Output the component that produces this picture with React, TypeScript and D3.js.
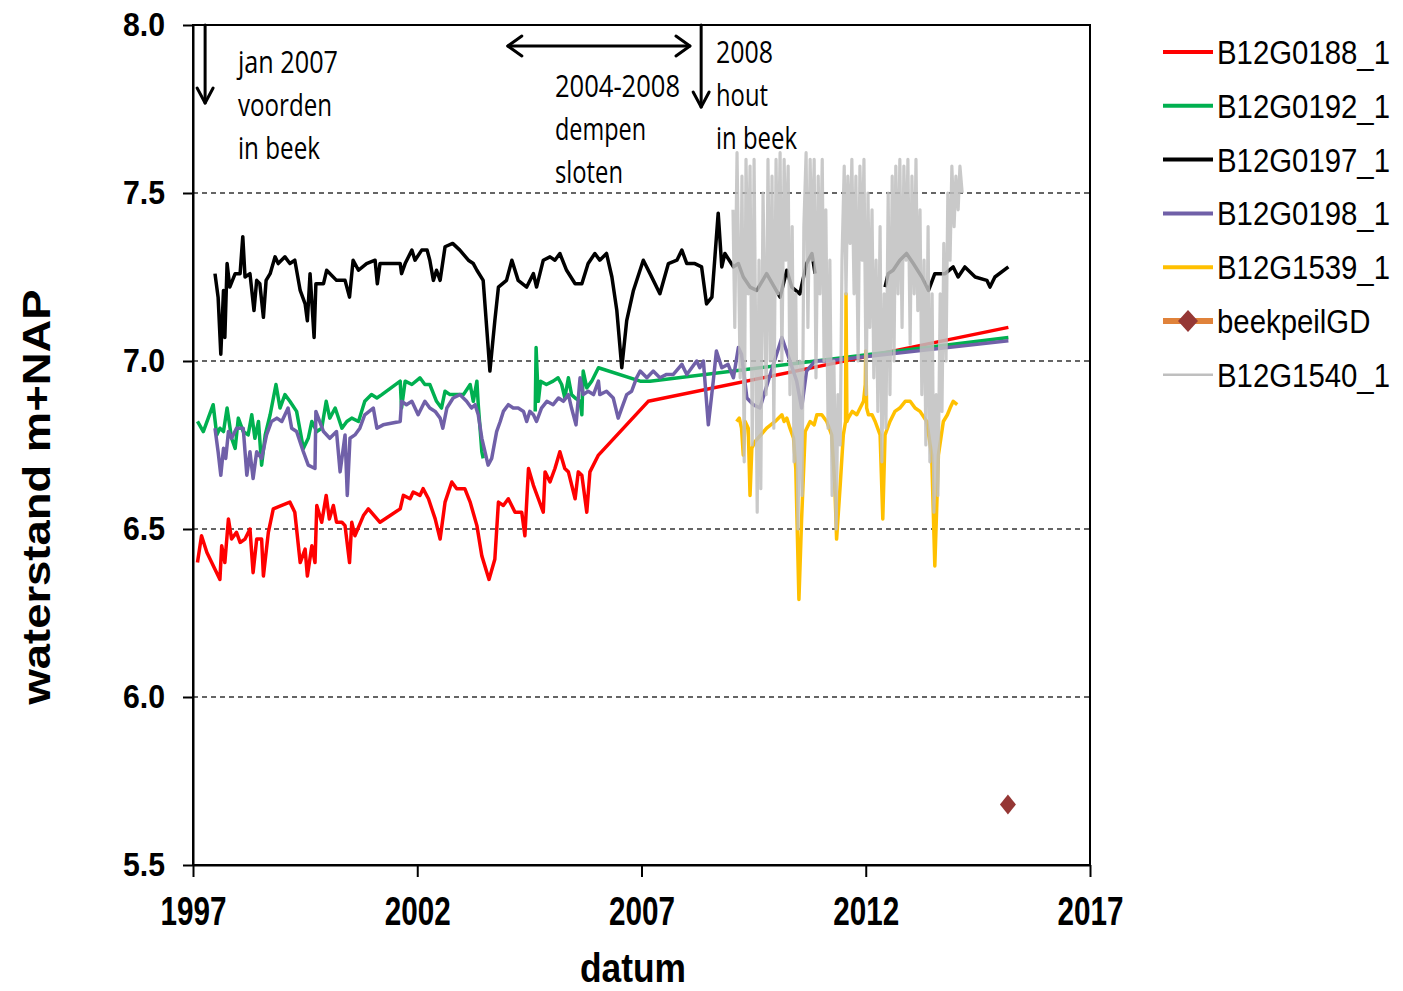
import * as d3 from "d3";
import { useEffect, useRef } from "react";

type Pt = [number, number | null];

// Meetreeksen: [jaar (decimaal), waterstand m+NAP]
const B12G0188_1: Pt[] = [
  [1997.1, 6.4], [1997.19, 6.48], [1997.31, 6.43], [1997.49, 6.38], [1997.6, 6.35], [1997.64, 6.45],
  [1997.71, 6.4], [1997.79, 6.53], [1997.86, 6.47], [1997.97, 6.49], [1998.05, 6.46], [1998.16, 6.47],
  [1998.27, 6.5], [1998.34, 6.37], [1998.42, 6.47], [1998.53, 6.47], [1998.57, 6.36], [1998.68, 6.49],
  [1998.79, 6.56], [1998.98, 6.57], [1999.16, 6.58], [1999.27, 6.55], [1999.39, 6.4], [1999.5, 6.44],
  [1999.55, 6.36], [1999.65, 6.45], [1999.72, 6.4], [1999.76, 6.57], [1999.87, 6.52], [1999.97, 6.6],
  [2000.04, 6.53], [2000.13, 6.57], [2000.2, 6.52], [2000.32, 6.52], [2000.39, 6.51], [2000.49, 6.4],
  [2000.54, 6.52], [2000.61, 6.48], [2000.8, 6.54], [2000.91, 6.56], [2001.17, 6.52], [2001.62, 6.56],
  [2001.69, 6.6], [2001.84, 6.59], [2001.91, 6.61], [2002.06, 6.6], [2002.13, 6.62], [2002.25, 6.59],
  [2002.4, 6.53], [2002.51, 6.47], [2002.62, 6.58], [2002.77, 6.64], [2002.88, 6.62], [2003.06, 6.62],
  [2003.18, 6.58], [2003.33, 6.51], [2003.44, 6.42], [2003.6, 6.35], [2003.73, 6.41], [2003.81, 6.58],
  [2003.92, 6.57], [2004.03, 6.59], [2004.18, 6.55], [2004.33, 6.55], [2004.4, 6.48], [2004.48, 6.68],
  [2004.59, 6.63], [2004.7, 6.59], [2004.81, 6.55], [2004.85, 6.67], [2004.96, 6.64], [2005.07, 6.68],
  [2005.18, 6.73], [2005.29, 6.68], [2005.37, 6.67], [2005.52, 6.59], [2005.59, 6.67], [2005.67, 6.66],
  [2005.78, 6.55], [2005.85, 6.67], [2006.04, 6.72], [2007.15, 6.88], [2015.18, 7.1],
];

const B12G0192_1: Pt[] = [
  [1997.1, 6.82], [1997.23, 6.79], [1997.45, 6.87], [1997.53, 6.78], [1997.6, 6.8], [1997.68, 6.79],
  [1997.76, 6.86], [1997.86, 6.77], [1997.94, 6.74], [1998.01, 6.83], [1998.12, 6.79], [1998.23, 6.78],
  [1998.31, 6.84], [1998.38, 6.77], [1998.46, 6.82], [1998.53, 6.69], [1998.61, 6.78], [1998.72, 6.84],
  [1998.85, 6.93], [1998.94, 6.86], [1999.05, 6.9], [1999.16, 6.88], [1999.31, 6.85], [1999.46, 6.74],
  [1999.57, 6.77], [1999.65, 6.82], [1999.76, 6.79], [1999.87, 6.8], [1999.97, 6.88], [2000.05, 6.83],
  [2000.17, 6.86], [2000.32, 6.8], [2000.43, 6.82], [2000.54, 6.83], [2000.69, 6.82], [2000.83, 6.88],
  [2000.98, 6.9], [2001.1, 6.89], [2001.21, 6.9], [2001.62, 6.94], [2001.65, 6.86], [2001.73, 6.94],
  [2001.88, 6.93], [2002.06, 6.95], [2002.17, 6.93], [2002.28, 6.93], [2002.43, 6.88], [2002.54, 6.86],
  [2002.62, 6.91], [2002.73, 6.9], [2002.88, 6.9], [2003.03, 6.9], [2003.18, 6.93], [2003.25, 6.88],
  [2003.33, 6.94], [2003.36, 6.87], [2003.44, 6.73], [2003.47, 6.71], [2004.0, null],
  [2004.63, 6.85], [2004.65, 7.04], [2004.7, 6.88], [2004.75, 6.94], [2004.88, 6.93], [2005.03, 6.94],
  [2005.14, 6.95], [2005.22, 6.93], [2005.29, 6.89], [2005.37, 6.95], [2005.44, 6.9], [2005.52, 6.89],
  [2005.63, 6.88], [2005.67, 6.84], [2005.7, 6.97], [2005.78, 6.92], [2005.89, 6.94], [2006.04, 6.98],
  [2006.97, 6.94], [2007.19, 6.94], [2015.18, 7.07],
];

const B12G0197_1: Pt[] = [
  [1997.49, 7.26], [1997.56, 7.19], [1997.62, 7.02], [1997.68, 7.21], [1997.71, 7.07], [1997.76, 7.29],
  [1997.82, 7.22], [1997.94, 7.26], [1998.05, 7.26], [1998.11, 7.37], [1998.16, 7.25], [1998.27, 7.26],
  [1998.36, 7.15], [1998.42, 7.24], [1998.49, 7.23], [1998.57, 7.13], [1998.63, 7.24], [1998.72, 7.26],
  [1998.83, 7.31], [1998.9, 7.29], [1999.05, 7.31], [1999.16, 7.29], [1999.27, 7.3], [1999.39, 7.21],
  [1999.5, 7.17], [1999.55, 7.12], [1999.61, 7.26], [1999.7, 7.07], [1999.74, 7.23], [1999.91, 7.23],
  [1999.98, 7.27], [2000.2, 7.24], [2000.39, 7.24], [2000.49, 7.19], [2000.57, 7.3], [2000.69, 7.27],
  [2000.87, 7.29], [2001.06, 7.3], [2001.11, 7.23], [2001.17, 7.29], [2001.62, 7.29], [2001.65, 7.26],
  [2001.73, 7.29], [2001.88, 7.33], [2001.95, 7.3], [2002.1, 7.33], [2002.22, 7.33], [2002.28, 7.3],
  [2002.36, 7.24], [2002.43, 7.27], [2002.51, 7.24], [2002.62, 7.34], [2002.79, 7.35], [2002.95, 7.33],
  [2003.14, 7.3], [2003.25, 7.29], [2003.33, 7.27], [2003.47, 7.24], [2003.62, 6.97], [2003.73, 7.12],
  [2003.81, 7.22], [2003.99, 7.24], [2004.11, 7.3], [2004.25, 7.24], [2004.44, 7.22], [2004.59, 7.26],
  [2004.66, 7.22], [2004.81, 7.3], [2004.96, 7.31], [2005.07, 7.3], [2005.18, 7.32], [2005.33, 7.27],
  [2005.52, 7.23], [2005.67, 7.23], [2005.81, 7.29], [2005.96, 7.32], [2006.07, 7.3], [2006.22, 7.32],
  [2006.34, 7.25], [2006.45, 7.15], [2006.56, 6.98], [2006.67, 7.12], [2006.82, 7.21], [2007.04, 7.3],
  [2007.19, 7.26], [2007.41, 7.2], [2007.6, 7.29], [2007.79, 7.3], [2007.9, 7.33], [2008.01, 7.29],
  [2008.19, 7.29], [2008.34, 7.28], [2008.45, 7.17], [2008.57, 7.19], [2008.71, 7.44], [2008.79, 7.28],
  [2008.86, 7.32], [2009.05, 7.28], [2009.16, 7.29], [2009.27, 7.25], [2009.42, 7.22], [2009.57, 7.21],
  [2009.79, 7.26], [2010.09, 7.19], [2010.24, 7.27], [2010.35, 7.22], [2010.53, 7.2], [2010.68, 7.29],
  [2010.8, 7.32], [2010.87, 7.26], [2011.5, null],
  [2012.43, 7.22], [2012.5, 7.26], [2012.61, 7.27], [2012.76, 7.3], [2012.91, 7.32], [2013.06, 7.29],
  [2013.25, 7.25], [2013.4, 7.21], [2013.54, 7.26], [2013.77, 7.26], [2013.95, 7.28], [2014.06, 7.25],
  [2014.21, 7.28], [2014.44, 7.25], [2014.7, 7.24], [2014.77, 7.22], [2014.88, 7.25], [2015.18, 7.28],
];

const B12G0198_1: Pt[] = [
  [1997.49, 6.8], [1997.56, 6.73], [1997.62, 6.66], [1997.68, 6.74], [1997.73, 6.71], [1997.79, 6.79],
  [1997.86, 6.77], [1997.97, 6.8], [1998.12, 6.8], [1998.2, 6.66], [1998.27, 6.73], [1998.34, 6.65],
  [1998.42, 6.73], [1998.53, 6.71], [1998.64, 6.78], [1998.75, 6.82], [1998.87, 6.83], [1998.98, 6.82],
  [1999.12, 6.86], [1999.2, 6.8], [1999.31, 6.79], [1999.46, 6.73], [1999.57, 6.69], [1999.72, 6.68],
  [1999.74, 6.85], [1999.91, 6.79], [2000.05, 6.77], [2000.2, 6.79], [2000.28, 6.67], [2000.39, 6.78],
  [2000.44, 6.6], [2000.5, 6.77], [2000.61, 6.78], [2000.72, 6.8], [2000.83, 6.84], [2001.02, 6.86],
  [2001.1, 6.8], [2001.24, 6.81], [2001.62, 6.82], [2001.65, 6.88], [2001.76, 6.87], [2001.88, 6.88],
  [2002.02, 6.84], [2002.17, 6.88], [2002.28, 6.86], [2002.4, 6.85], [2002.51, 6.83], [2002.57, 6.8],
  [2002.66, 6.86], [2002.8, 6.89], [2002.95, 6.9], [2003.1, 6.88], [2003.21, 6.86], [2003.29, 6.87],
  [2003.36, 6.84], [2003.44, 6.77], [2003.58, 6.69], [2003.66, 6.71], [2003.77, 6.79], [2003.85, 6.82],
  [2003.92, 6.85], [2004.03, 6.87], [2004.14, 6.86], [2004.25, 6.86], [2004.37, 6.85], [2004.44, 6.82],
  [2004.51, 6.85], [2004.59, 6.84], [2004.66, 6.82], [2004.77, 6.86], [2004.89, 6.88], [2005.03, 6.87],
  [2005.15, 6.89], [2005.26, 6.88], [2005.37, 6.9], [2005.44, 6.86], [2005.54, 6.81], [2005.63, 6.95],
  [2005.7, 6.9], [2005.81, 6.91], [2005.93, 6.9], [2006.04, 6.94], [2006.07, 6.9], [2006.22, 6.91],
  [2006.37, 6.89], [2006.48, 6.83], [2006.56, 6.86], [2006.67, 6.9], [2006.78, 6.91], [2006.89, 6.95],
  [2006.97, 6.97], [2007.12, 6.95], [2007.26, 6.97], [2007.41, 6.95], [2007.56, 6.96], [2007.71, 6.96],
  [2007.9, 6.99], [2008.01, 6.96], [2008.12, 6.98], [2008.23, 7.0], [2008.3, 6.98], [2008.38, 7.0],
  [2008.49, 6.81], [2008.6, 6.94], [2008.67, 7.03], [2008.79, 6.98], [2008.93, 6.99], [2009.05, 6.95],
  [2009.16, 7.04], [2009.23, 7.02], [2009.35, 6.89], [2009.49, 6.87], [2009.64, 6.86], [2009.87, 6.96],
  [2010.13, 7.07], [2010.31, 7.0], [2010.46, 6.94], [2010.57, 6.86], [2010.68, 6.97], [2010.87, 7.0],
  [2011.13, 7.0], [2015.18, 7.06],
];

const B12G1539_1: Pt[] = [
  [2009.12, 6.82], [2009.18, 6.83], [2009.23, 6.8], [2009.27, 6.72], [2009.31, 6.82], [2009.38, 6.8],
  [2009.42, 6.6], [2009.46, 6.74], [2009.53, 6.76], [2009.79, 6.8], [2009.98, 6.82], [2010.13, 6.84],
  [2010.18, 6.82], [2010.24, 6.83], [2010.31, 6.8], [2010.39, 6.77], [2010.44, 6.68], [2010.51, 6.29],
  [2010.57, 6.53], [2010.65, 6.79], [2010.76, 6.82], [2010.85, 6.81], [2010.91, 6.84], [2011.02, 6.84],
  [2011.13, 6.82], [2011.24, 6.78], [2011.31, 6.63], [2011.35, 6.47], [2011.43, 6.63], [2011.5, 6.78],
  [2011.55, 6.82], [2011.56, 7.2], [2011.58, 6.82], [2011.61, 6.83], [2011.7, 6.85], [2011.8, 6.84],
  [2011.95, 6.88], [2011.99, 6.93], [2012.0, 7.03], [2012.02, 6.86], [2012.06, 6.84], [2012.14, 6.84],
  [2012.21, 6.82], [2012.32, 6.78], [2012.38, 6.53], [2012.43, 6.78], [2012.54, 6.82], [2012.65, 6.85],
  [2012.76, 6.86], [2012.88, 6.88], [2012.99, 6.88], [2013.1, 6.86], [2013.21, 6.85], [2013.36, 6.82],
  [2013.47, 6.72], [2013.54, 6.39], [2013.62, 6.72], [2013.73, 6.82], [2013.82, 6.84], [2013.88, 6.86],
  [2013.95, 6.88], [2014.04, 6.87],
];

const B12G1540_1: Pt[] = [
  [2009.04, 7.45], [2009.08, 7.1], [2009.13, 7.62], [2009.2, 6.95], [2009.24, 7.55], [2009.29, 6.7],
  [2009.33, 7.6], [2009.38, 7.2], [2009.42, 7.58], [2009.47, 6.75], [2009.51, 7.6], [2009.58, 6.55],
  [2009.62, 7.3], [2009.66, 6.62], [2009.71, 7.5], [2009.78, 6.9], [2009.82, 7.6], [2009.87, 7.0],
  [2009.91, 7.55], [2009.95, 6.8], [2010.0, 7.6], [2010.04, 7.2], [2010.09, 7.62], [2010.13, 7.0],
  [2010.18, 7.6], [2010.22, 7.3], [2010.27, 7.58], [2010.31, 6.9], [2010.36, 7.4], [2010.4, 6.7],
  [2010.44, 7.2], [2010.49, 6.5], [2010.53, 7.0], [2010.58, 6.6], [2010.62, 7.4], [2010.67, 7.62],
  [2010.71, 7.1], [2010.76, 7.6], [2010.8, 7.3], [2010.85, 7.6], [2010.89, 6.95], [2010.94, 7.55],
  [2010.98, 7.2], [2011.03, 7.6], [2011.07, 7.0], [2011.11, 7.45], [2011.16, 6.8], [2011.2, 7.3],
  [2011.25, 6.6], [2011.29, 7.0], [2011.34, 6.5], [2011.38, 6.9], [2011.43, 6.75], [2011.47, 7.3],
  [2011.52, 7.58], [2011.56, 7.2], [2011.6, 7.55], [2011.65, 7.35], [2011.69, 7.6], [2011.74, 7.2],
  [2011.78, 7.55], [2011.83, 7.0], [2011.87, 7.58], [2011.92, 7.3], [2011.96, 7.6], [2012.01, 6.9],
  [2012.05, 7.5], [2012.09, 7.1], [2012.14, 7.45], [2012.18, 6.95], [2012.23, 7.3], [2012.27, 6.85],
  [2012.32, 7.4], [2012.36, 6.7], [2012.41, 7.2], [2012.45, 6.8], [2012.5, 7.5], [2012.54, 6.9],
  [2012.59, 7.55], [2012.63, 7.0], [2012.67, 7.58], [2012.72, 7.2], [2012.76, 7.6], [2012.81, 7.1],
  [2012.85, 7.58], [2012.9, 7.3], [2012.94, 7.6], [2012.99, 7.05], [2013.03, 7.55], [2013.08, 7.2],
  [2013.12, 7.6], [2013.16, 7.15], [2013.21, 7.45], [2013.25, 6.9], [2013.3, 7.3], [2013.34, 6.75],
  [2013.39, 7.4], [2013.43, 6.7], [2013.48, 7.2], [2013.52, 6.55], [2013.57, 6.9], [2013.61, 6.6],
  [2013.66, 7.2], [2013.7, 6.85], [2013.74, 7.35], [2013.79, 7.0], [2013.83, 7.5], [2013.88, 7.3],
  [2013.92, 7.58], [2013.97, 7.4], [2014.01, 7.55], [2014.06, 7.45], [2014.1, 7.58], [2014.15, 7.5],
];

const beekpeilGD: [number, number][] = [[2015.17, 5.68]];

const legendNames = ["B12G0188_1", "B12G0192_1", "B12G0197_1", "B12G0198_1", "B12G1539_1", "beekpeilGD", "B12G1540_1"];
const legendColors = ["#ff0000", "#00b050", "#000000", "#7060a8", "#ffc000", "#e0823a", "#bfbfbf"];

const yTicks = [5.5, 6.0, 6.5, 7.0, 7.5, 8.0];
const gridValues = [6.0, 6.5, 7.0, 7.5];
const xTicks = [1997, 2002, 2007, 2012, 2017];

const notes = [
  ["jan 2007", "voorden", "in beek"],
  ["2004-2008", "dempen", "sloten"],
  ["2008", "hout", "in beek"],
];

export default function App() {
  const ref = useRef<SVGSVGElement>(null);

  useEffect(() => {
    const svg = d3.select(ref.current);
    svg.selectAll("*").remove();

    const x = d3.scaleLinear().domain([1997, 2017]).range([193, 1090]);
    const y = d3.scaleLinear().domain([5.5, 8.0]).range([865, 25]);

    // gestippelde hulplijnen
    svg
      .append("g")
      .selectAll("line")
      .data(gridValues)
      .join("line")
      .attr("x1", x(1997))
      .attr("x2", x(2017))
      .attr("y1", (d) => y(d))
      .attr("y2", (d) => y(d))
      .attr("stroke", "#333")
      .attr("stroke-width", 1.5)
      .attr("stroke-dasharray", "5,4");

    const line = d3
      .line<Pt>()
      .defined((d) => d[1] !== null)
      .x((d) => x(d[0]))
      .y((d) => y(d[1] as number));

    const drawSeries = (data: Pt[], color: string, width: number, opacity = 1) =>
      svg
        .append("path")
        .datum(data)
        .attr("d", line)
        .attr("fill", "none")
        .attr("stroke", color)
        .attr("stroke-width", width)
        .attr("stroke-linejoin", "round")
        .attr("opacity", opacity);

    drawSeries(B12G0188_1, legendColors[0], 3.5);
    drawSeries(B12G0192_1, legendColors[1], 3.5);
    drawSeries(B12G0197_1, legendColors[2], 3.5);
    drawSeries(B12G0198_1, legendColors[3], 3.5);
    drawSeries(B12G1539_1, legendColors[4], 3.5);
    drawSeries(B12G1540_1, legendColors[6], 3.2, 0.85);

    // beekpeil
    svg
      .append("g")
      .selectAll("path")
      .data(beekpeilGD)
      .join("path")
      .attr("transform", (d) => `translate(${x(d[0])},${y(d[1])})`)
      .attr("d", "M0,-10L8,0L0,10L-8,0Z")
      .attr("fill", "#953735");

    // kader
    svg
      .append("rect")
      .attr("x", x(1997))
      .attr("y", y(8))
      .attr("width", x(2017) - x(1997))
      .attr("height", y(5.5) - y(8))
      .attr("fill", "none")
      .attr("stroke", "#000")
      .attr("stroke-width", 2);

    const yAxis = svg
      .append("g")
      .attr("transform", `translate(${x(1997)},0)`)
      .call(
        d3
          .axisLeft(y)
          .tickValues(yTicks)
          .tickFormat(d3.format(".1f"))
          .tickSize(10)
          .tickSizeOuter(0)
          .tickPadding(18)
      );
    yAxis.selectAll("line, path").attr("stroke", "#000").attr("stroke-width", 2);
    yAxis
      .selectAll("text")
      .attr("font-family", "Arial, 'Liberation Sans', sans-serif")
      .attr("font-weight", "bold")
      .attr("font-size", 34)
      .attr("fill", "#000")
      .attr("textLength", 42)
      .attr("lengthAdjust", "spacingAndGlyphs");

    const xAxis = svg
      .append("g")
      .attr("transform", `translate(0,${y(5.5)})`)
      .call(
        d3
          .axisBottom(x)
          .tickValues(xTicks)
          .tickFormat(d3.format("d"))
          .tickSize(12)
          .tickSizeOuter(0)
          .tickPadding(19)
      );
    xAxis.selectAll("line, path").attr("stroke", "#000").attr("stroke-width", 2);
    xAxis
      .selectAll("text")
      .attr("font-family", "Arial, 'Liberation Sans', sans-serif")
      .attr("font-weight", "bold")
      .attr("font-size", 41)
      .attr("fill", "#000")
      .attr("textLength", 66)
      .attr("lengthAdjust", "spacingAndGlyphs");

    // astitels
    svg
      .append("text")
      .attr("transform", "translate(50,497) rotate(-90)")
      .attr("text-anchor", "middle")
      .attr("font-family", "Arial, 'Liberation Sans', sans-serif")
      .attr("font-weight", "bold")
      .attr("font-size", 38)
      .attr("textLength", 415)
      .attr("lengthAdjust", "spacingAndGlyphs")
      .text("waterstand m+NAP");

    svg
      .append("text")
      .attr("x", 633)
      .attr("y", 982)
      .attr("text-anchor", "middle")
      .attr("font-family", "Arial, 'Liberation Sans', sans-serif")
      .attr("font-weight", "bold")
      .attr("font-size", 40)
      .attr("textLength", 106)
      .attr("lengthAdjust", "spacingAndGlyphs")
      .text("datum");

    // pijlen
    const arrows = svg
      .append("g")
      .attr("stroke", "#000")
      .attr("stroke-width", 3)
      .attr("fill", "none")
      .attr("stroke-linecap", "round")
      .attr("stroke-linejoin", "round");
    const downArrow = (year: number, len: number) => {
      const ax = x(year);
      const top = y(8);
      arrows.append("path").attr("d", `M${ax},${top}V${top + len}`);
      arrows
        .append("path")
        .attr("d", `M${ax - 8},${top + len - 15}L${ax},${top + len}L${ax + 8},${top + len - 15}`);
    };
    downArrow(1997.27, 78);
    downArrow(2008.33, 82);
    const ha = x(2004.02);
    const hb = x(2008.08);
    const hy = 46;
    arrows.append("path").attr("d", `M${ha},${hy}H${hb}`);
    arrows.append("path").attr("d", `M${ha + 14},${hy - 10}L${ha},${hy}L${ha + 14},${hy + 10}`);
    arrows.append("path").attr("d", `M${hb - 14},${hy - 10}L${hb},${hy}L${hb - 14},${hy + 10}`);

    // annotaties
    const notePos = [
      { x: 238, y: 73, w: [100, 94, 82] },
      { x: 555, y: 97, w: [125, 91, 68] },
      { x: 716, y: 63, w: [57, 52, 81] },
    ];
    notes.forEach((lines, i) => {
      lines.forEach((t, j) => {
        svg
          .append("text")
          .attr("x", notePos[i].x)
          .attr("y", notePos[i].y + j * 43)
          .attr("font-family", "'Open Sans', 'Noto Sans', sans-serif")
          .attr("font-size", 31)
          .attr("fill", "#000")
          .attr("textLength", notePos[i].w[j])
          .attr("lengthAdjust", "spacingAndGlyphs")
          .text(t);
      });
    });

    // legenda
    const legend = svg
      .append("g")
      .selectAll("g")
      .data(legendNames)
      .join("g")
      .attr("transform", (d, i) => `translate(1163,${52 + i * 53.8})`);
    legend
      .append("line")
      .attr("x1", 0)
      .attr("x2", 50)
      .attr("stroke", (d, i) => legendColors[i])
      .attr("stroke-width", (d, i) => (i === 5 ? 6 : i === 6 ? 2.5 : 4));
    legend
      .filter((d, i) => i === 5)
      .append("path")
      .attr("transform", "translate(25,0)")
      .attr("d", "M0,-11L10,0L0,11L-10,0Z")
      .attr("fill", "#953735");
    legend
      .append("text")
      .attr("transform", "translate(54,12) scale(0.89,1)")
      .attr("font-family", "Arial, 'Liberation Sans', sans-serif")
      .attr("font-size", 33)
      .attr("fill", "#000")
      .text((d) => d);
  }, []);

  return (
    <svg
      ref={ref}
      width={1403}
      height={991}
      style={{ position: "absolute", left: 0, top: 0, background: "#fff" }}
    />
  );
}
